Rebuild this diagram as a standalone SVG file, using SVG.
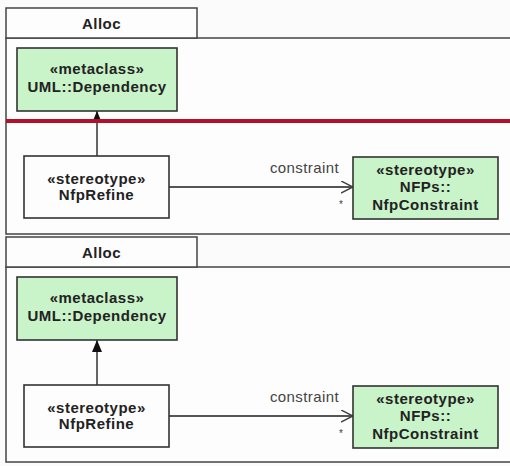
<svg xmlns="http://www.w3.org/2000/svg" width="510" height="466" viewBox="0 0 510 466">
<style>
.pkg{fill:#fdfdfd;stroke:#444;stroke-width:1.5}
.cls{fill:#fdfdfd;stroke:#333;stroke-width:1.6}
.meta{fill:#c9f3c9;stroke:#333;stroke-width:1.6}
.t{font-family:"Liberation Sans",Arial,sans-serif;font-weight:bold;font-size:15px;letter-spacing:0.5px;fill:#222;text-anchor:middle}
.lbl{font-family:"Liberation Sans",Arial,sans-serif;font-size:15px;letter-spacing:0.4px;fill:#444}
.star{font-family:"Liberation Sans",Arial,sans-serif;font-size:10px;fill:#444;text-anchor:middle}
.ln{stroke:#555;stroke-width:1.8;fill:none}
</style>
<defs>
<marker id="gen" viewBox="0 0 12 10" refX="12" refY="5" markerWidth="12" markerHeight="10" markerUnits="userSpaceOnUse" orient="auto">
<path d="M0,0 L12,5 L0,10 Z" fill="#111"/>
</marker>
<marker id="open" viewBox="0 0 13 13" refX="12" refY="6.5" markerWidth="13" markerHeight="13" markerUnits="userSpaceOnUse" orient="auto">
<path d="M0,0.5 L12,6.5 L0,12.5" fill="none" stroke="#444" stroke-width="1.5"/>
</marker>
</defs>
<rect x="0" y="0" width="510" height="466" fill="#fbfbfb"/>

<g id="pkg-top">
<rect class="pkg" x="6" y="38" width="510" height="196"/>
<rect class="pkg" x="6" y="8" width="191" height="30"/>
<text class="t" x="101.5" y="28.5">Alloc</text>
</g>
<g id="pkg-bottom">
<rect class="pkg" x="6" y="267" width="510" height="195"/>
<rect class="pkg" x="6" y="237" width="191" height="30"/>
<text class="t" x="101.5" y="257.5">Alloc</text>
</g>

<g id="connectors">
<line class="ln" x1="97" y1="156" x2="97" y2="111" marker-end="url(#gen)"/>
<line class="ln" x1="169" y1="187" x2="353" y2="187" marker-end="url(#open)"/>
<text class="lbl" x="339" y="173" text-anchor="end">constraint</text>
<text class="star" x="341" y="208">*</text>
<line class="ln" x1="97" y1="385" x2="97" y2="340" marker-end="url(#gen)"/>
<line class="ln" x1="169" y1="416" x2="353" y2="416" marker-end="url(#open)"/>
<text class="lbl" x="339" y="402" text-anchor="end">constraint</text>
<text class="star" x="341" y="437">*</text>
</g>

<g id="dep-top">
<rect class="meta" x="17" y="48" width="160" height="63"/>
<text class="t" x="97" y="74">«metaclass»</text>
<text class="t" x="97" y="92">UML::Dependency</text>
</g>
<g id="refine-top">
<rect class="cls" x="24" y="156" width="145" height="62"/>
<text class="t" x="96.5" y="184">«stereotype»</text>
<text class="t" x="96.5" y="200">NfpRefine</text>
</g>
<g id="constraint-top">
<rect class="meta" x="353" y="157" width="145" height="62"/>
<text class="t" x="425.5" y="175">«stereotype»</text>
<text class="t" x="425.5" y="192">NFPs::</text>
<text class="t" x="425.5" y="210">NfpConstraint</text>
</g>

<g id="dep-bottom">
<rect class="meta" x="17" y="277" width="160" height="63"/>
<text class="t" x="97" y="303">«metaclass»</text>
<text class="t" x="97" y="321">UML::Dependency</text>
</g>
<g id="refine-bottom">
<rect class="cls" x="24" y="385" width="145" height="62"/>
<text class="t" x="96.5" y="413">«stereotype»</text>
<text class="t" x="96.5" y="429">NfpRefine</text>
</g>
<g id="constraint-bottom">
<rect class="meta" x="353" y="386" width="145" height="62"/>
<text class="t" x="425.5" y="404">«stereotype»</text>
<text class="t" x="425.5" y="421">NFPs::</text>
<text class="t" x="425.5" y="439">NfpConstraint</text>
</g>

<line id="divider" x1="6" y1="121" x2="510" y2="121" stroke="#b3102c" stroke-width="4"/>
</svg>
